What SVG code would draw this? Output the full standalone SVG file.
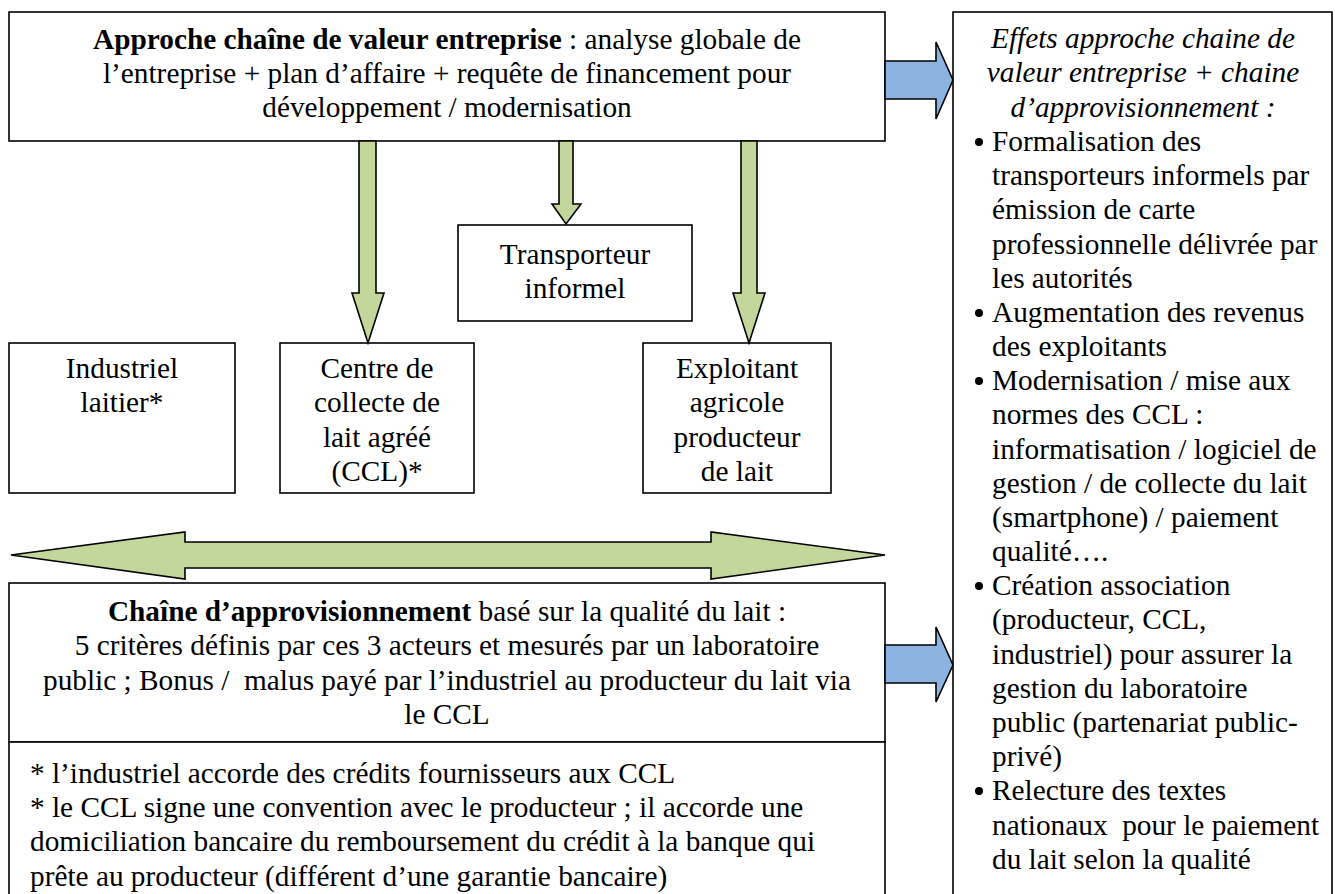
<svg xmlns="http://www.w3.org/2000/svg" width="1335" height="894" viewBox="0 0 1335 894">
<style>
text{font-family:"Liberation Serif","Times New Roman",Tinos,serif;font-size:29.3px;fill:#000}
.c{text-anchor:middle}
.b{font-weight:bold}
.i{font-style:italic}
.box{fill:#fff;stroke:#000;stroke-width:1.6}
.g{fill:#C3D69B;stroke:#000;stroke-width:1.6;stroke-linejoin:miter}
.bl{fill:#8DB3E2;stroke:#000;stroke-width:1.6;stroke-linejoin:miter}
</style>
<rect width="1335" height="894" fill="#fff"/>

<g id="top-box">
<rect class="box" x="9" y="12" width="876" height="129"/>
<text class="c" x="447" y="49"><tspan class="b">Approche chaîne de valeur entreprise</tspan> : analyse globale de</text>
<text class="c" x="447" y="83">l’entreprise + plan d’affaire + requête de financement pour</text>
<text class="c" x="447" y="117">développement / modernisation</text>
</g>

<g id="effets-box">
<rect class="box" x="953" y="12" width="379" height="900"/>
<text class="c i" x="1143" y="48">Effets approche chaine de</text>
<text class="c i" x="1143" y="82">valeur entreprise + chaine</text>
<text class="c i" x="1143" y="117">d’approvisionnement :</text>
<g>
<circle cx="979" cy="142" r="4"/>
<circle cx="979" cy="313" r="4"/>
<circle cx="979" cy="381" r="4"/>
<circle cx="979" cy="586" r="4"/>
<circle cx="979" cy="791" r="4"/>
</g>
<text x="992" y="151">Formalisation des</text>
<text x="992" y="185">transporteurs informels par</text>
<text x="992" y="219">émission de carte</text>
<text x="992" y="254">professionnelle délivrée par</text>
<text x="992" y="288">les autorités</text>
<text x="992" y="322">Augmentation des revenus</text>
<text x="992" y="356">des exploitants</text>
<text x="992" y="390">Modernisation / mise aux</text>
<text x="992" y="424">normes des CCL :</text>
<text x="992" y="459">informatisation / logiciel de</text>
<text x="992" y="493">gestion / de collecte du lait</text>
<text x="992" y="527">(smartphone) / paiement</text>
<text x="992" y="561">qualité….</text>
<text x="992" y="595">Création association</text>
<text x="992" y="629">(producteur, CCL,</text>
<text x="992" y="664">industriel) pour assurer la</text>
<text x="992" y="698">gestion du laboratoire</text>
<text x="992" y="732">public (partenariat public-</text>
<text x="992" y="766">privé)</text>
<text x="992" y="800">Relecture des textes</text>
<text x="992" y="835" xml:space="preserve">nationaux  pour le paiement</text>
<text x="992" y="869">du lait selon la qualité</text>
</g>

<g id="transporteur">
<rect class="box" x="458" y="225" width="234" height="96"/>
<text class="c" x="575" y="264">Transporteur</text>
<text class="c" x="575" y="298">informel</text>
</g>

<g id="industriel">
<rect class="box" x="9" y="343" width="226" height="150"/>
<text class="c" x="122" y="378">Industriel</text>
<text class="c" x="122" y="412">laitier*</text>
</g>

<g id="ccl">
<rect class="box" x="280" y="343" width="194" height="150"/>
<text class="c" x="377" y="378">Centre de</text>
<text class="c" x="377" y="412">collecte de</text>
<text class="c" x="377" y="447">lait agréé</text>
<text class="c" x="377" y="481">(CCL)*</text>
</g>

<g id="exploitant">
<rect class="box" x="643" y="343" width="188" height="150"/>
<text class="c" x="737" y="378">Exploitant</text>
<text class="c" x="737" y="412">agricole</text>
<text class="c" x="737" y="447">producteur</text>
<text class="c" x="737" y="481">de lait</text>
</g>

<g id="chaine-box">
<rect class="box" x="9" y="583" width="876" height="159"/>
<text class="c" x="447" y="621"><tspan class="b">Chaîne d’approvisionnement</tspan> basé sur la qualité du lait :</text>
<text class="c" x="447" y="655">5 critères définis par ces 3 acteurs et mesurés par un laboratoire</text>
<text class="c" x="447" y="690" xml:space="preserve">public ; Bonus /  malus payé par l’industriel au producteur du lait via</text>
<text class="c" x="447" y="724">le CCL</text>
</g>

<g id="credit-box">
<rect class="box" x="9" y="742" width="876" height="170"/>
<text x="30" y="783">* l’industriel accorde des crédits fournisseurs aux CCL</text>
<text x="30" y="817">* le CCL signe une convention avec le producteur ; il accorde une</text>
<text x="30" y="851">domiciliation bancaire du remboursement du crédit à la banque qui</text>
<text x="30" y="886">prête au producteur (différent d’une garantie bancaire)</text>
</g>

<g id="connectors">
<polygon class="g" points="359,141 376,141 376,293 384,293 368,343 352,293 359,293"/>
<polygon class="g" points="559,141 573,141 573,204 581,204 566,224 552,204 559,204"/>
<polygon class="g" points="741,141 757,141 757,293 765,293 749,343 733,293 741,293"/>
<polygon class="g" points="11,555 185,532 185,542 711,542 711,532 885,555 711,579 711,568 185,568 185,579"/>
<polygon class="bl" points="885,61 936,61 936,42 953,80 936,119 936,99 885,99"/>
<polygon class="bl" points="885,645 936,645 936,627 953,665 936,702 936,683 885,683"/>
</g>
</svg>
